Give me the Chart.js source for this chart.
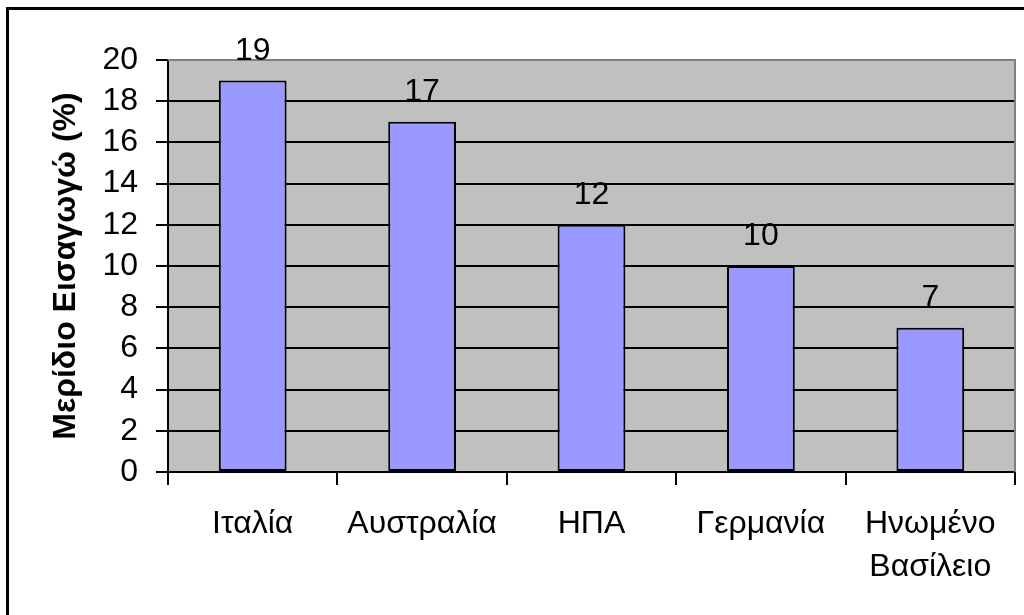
<!DOCTYPE html>
<html lang="el">
<head>
    <meta charset="UTF-8">
    <title>Μερίδιο Εισαγωγών</title>
    <script src="https://cdn.jsdelivr.net/npm/chart.js"></script>
    <style>
        body { margin: 0; background: white; }
        #importChart { display: block; }
    </style>
</head>
<body>
    <canvas id="importChart" width="1024" height="615"></canvas>

    <script>
        // data
        const countries = ['Ιταλία', 'Αυστραλία', 'ΗΠΑ', 'Γερμανία', ['Ηνωμένο', 'Βασίλειο']];
        const shares = [19, 17, 12, 10, 7];
        const yTicks = [0, 2, 4, 6, 8, 10, 12, 14, 16, 18, 20];
        const axisTitle = 'Μερίδιο Εισαγωγώ (%)';

        const FONT = '"Liberation Sans", Arial, sans-serif';

        // gray plot background, frame, value labels
        const excelLook = {
            id: 'excelLook',
            beforeDraw(chart) {
                const ctx = chart.ctx, a = chart.chartArea;
                ctx.save();
                ctx.fillStyle = '#000';
                ctx.fillRect(6, 7, chart.width, 3);
                ctx.fillRect(6, 7, 3, chart.height);
                ctx.fillStyle = '#c0c0c0';
                ctx.fillRect(a.left, a.top, a.right - a.left, a.bottom - a.top);
                ctx.restore();
            },
            beforeDatasetsDraw(chart) {
                const ctx = chart.ctx, a = chart.chartArea;
                ctx.save();
                ctx.strokeStyle = '#808080';
                ctx.lineWidth = 2;
                ctx.beginPath();
                ctx.moveTo(a.left, a.top);
                ctx.lineTo(a.right, a.top);
                ctx.lineTo(a.right, a.bottom);
                ctx.stroke();
                ctx.restore();
            },
            afterDatasetsDraw(chart) {
                const ctx = chart.ctx;
                ctx.save();
                ctx.fillStyle = '#000';
                ctx.font = '32px ' + FONT;
                ctx.textAlign = 'center';
                ctx.textBaseline = 'alphabetic';
                chart.getDatasetMeta(0).data.forEach((bar, i) => {
                    ctx.fillText(String(shares[i]), bar.x, bar.y - 21);
                });
                ctx.restore();
            }
        };

        new Chart(document.getElementById('importChart'), {
            type: 'bar',
            data: {
                labels: countries,
                datasets: [{
                    data: shares,
                    backgroundColor: '#9999ff',
                    borderColor: '#000',
                    borderWidth: 2,
                    borderSkipped: false,
                    barPercentage: 0.4,
                    categoryPercentage: 1
                }]
            },
            options: {
                responsive: false,
                animation: false,
                events: [],
                layout: { padding: { top: 60, right: 9, left: 0, bottom: 0 } },
                plugins: { legend: { display: false }, tooltip: { enabled: false } },
                scales: {
                    x: {
                        afterFit: s => { s.height = 615 - 472; },
                        grid: {
                            offset: true,
                            drawOnChartArea: false,
                            tickLength: 13,
                            tickColor: '#000',
                            lineWidth: 2
                        },
                        border: { color: '#000', width: 2 },
                        ticks: {
                            color: '#000',
                            padding: 17,
                            maxRotation: 0,
                            autoSkip: false,
                            font: { family: FONT, size: 32, lineHeight: 1.36 }
                        }
                    },
                    y: {
                        min: 0,
                        max: 20,
                        afterFit: s => { s.width = 168; },
                        afterBuildTicks: s => { s.ticks = yTicks.map(v => ({ value: v })); },
                        grid: {
                            color: c => (c.tick && c.tick.value === 20) ? 'rgba(0,0,0,0)' : '#000',
                            tickColor: '#000',
                            tickLength: 12,
                            lineWidth: 2
                        },
                        border: { color: '#000', width: 2 },
                        ticks: {
                            color: '#000',
                            padding: 18,
                            autoSkip: false,
                            font: { family: FONT, size: 32 }
                        },
                        title: {
                            display: true,
                            text: axisTitle,
                            color: '#000',
                            padding: { top: 47, bottom: 0 },
                            font: { family: FONT, size: 32, weight: 'bold' }
                        }
                    }
                }
            },
            plugins: [excelLook]
        });
    </script>
</body>
</html>
